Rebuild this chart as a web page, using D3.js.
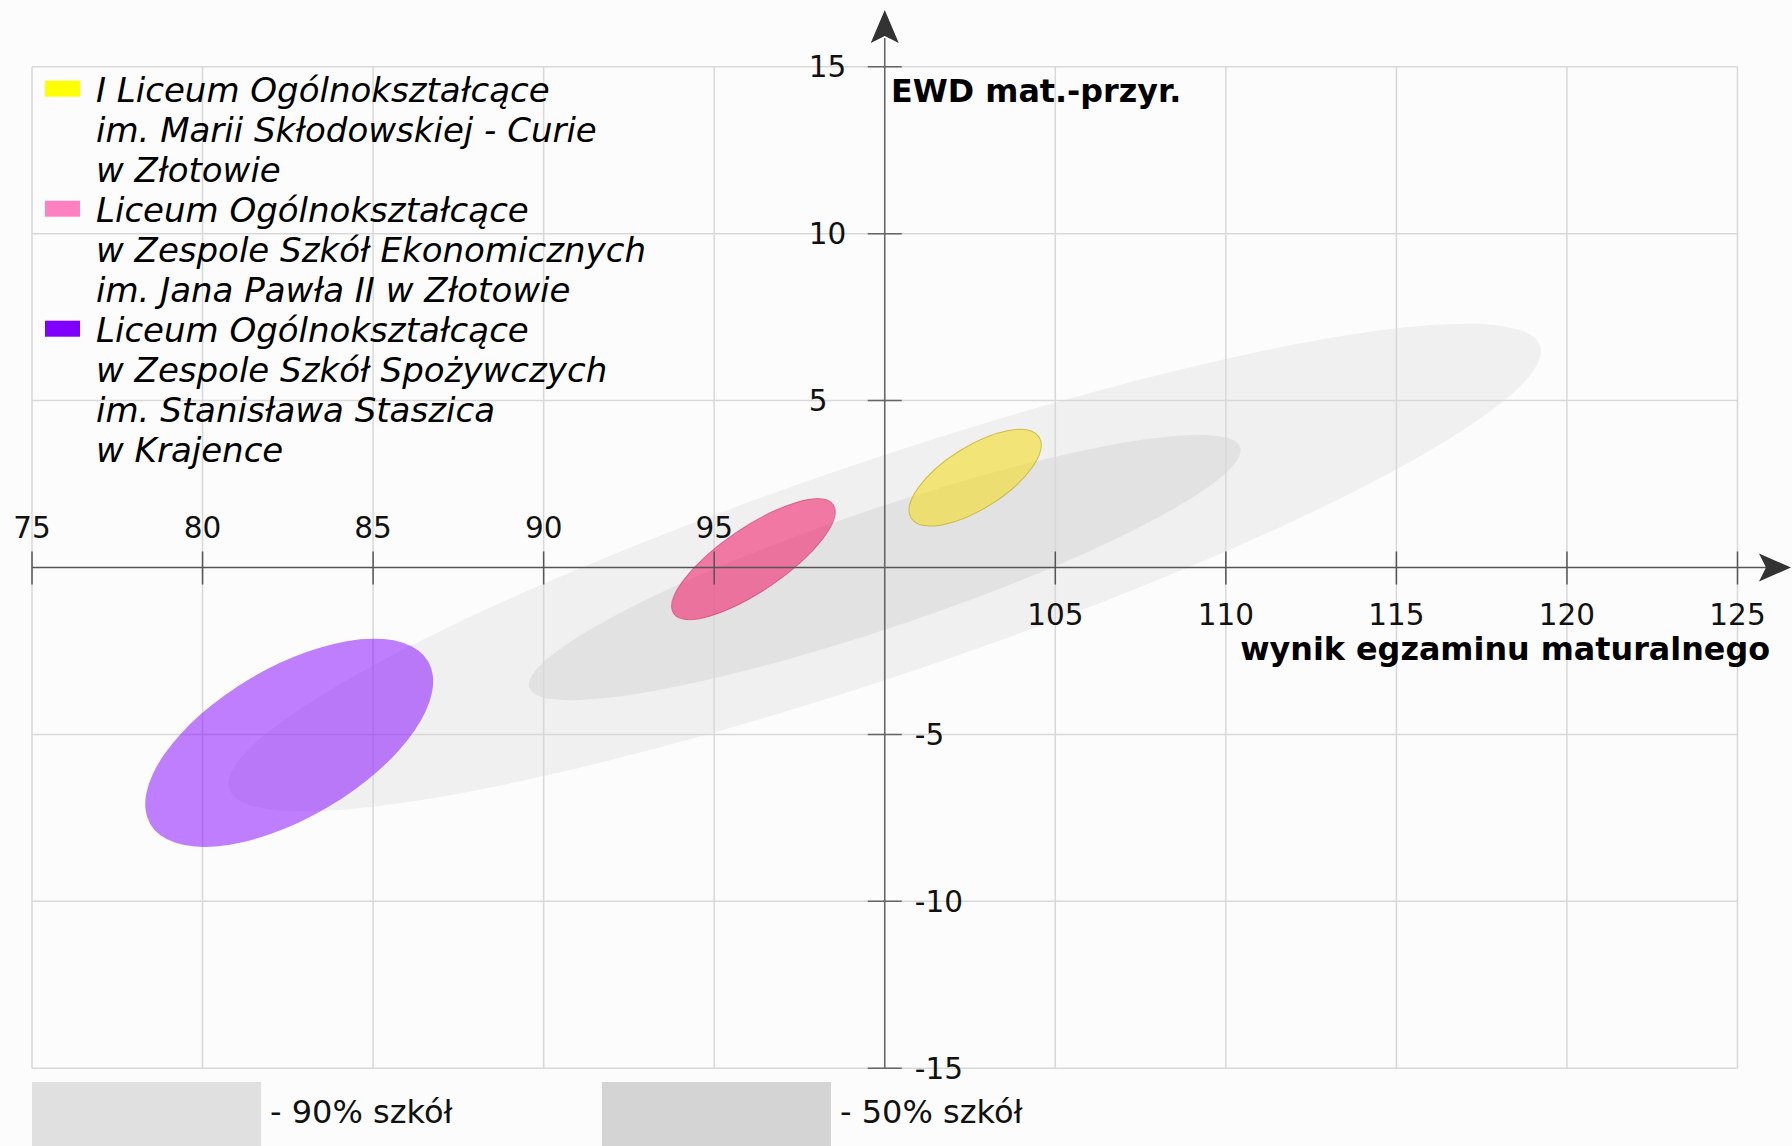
<!DOCTYPE html>
<html>
<head>
<meta charset="utf-8">
<script src="https://cdn.jsdelivr.net/npm/d3@7"></script>
<style>
  html, body { margin: 0; padding: 0; background: #fcfcfc; }
  svg { display: block; }
  text { font-family: "DejaVu Sans", sans-serif; }
</style>
</head>
<body>
<svg id="chart" width="1792" height="1146"></svg>
<script>
// ---- data ----
const xTicks = [75, 80, 85, 90, 95, 100, 105, 110, 115, 120, 125];
const yTicks = [-15, -10, -5, 5, 10, 15];
const xTitle = "wynik egzaminu maturalnego";
const yTitle = "EWD mat.-przyr.";

// national distribution ellipses (90% / 50% of schools)
const bandLabels = ["- 90% szkół", "- 50% szkół"];
const bandCx = [100, 100];
const bandCy = [0, 0];
const bandRx = [20.28, 11.0];
const bandRy = [3.2, 1.77];
const bandAngle = [18.7, 18.7];
const bandFill = ["#f0f0f0", "#e2e2e2"];
const bandSwatch = ["#e0e0e0", "#d4d4d4"];

// schools
const schoolNames = [
  ["I Liceum Ogólnokształcące", "im. Marii Skłodowskiej - Curie", "w Złotowie"],
  ["Liceum Ogólnokształcące", "w Zespole Szkół Ekonomicznych", "im. Jana Pawła II w Złotowie"],
  ["Liceum Ogólnokształcące", "w Zespole Szkół Spożywczych", "im. Stanisława Staszica", "w Krajence"]
];
const schoolCx = [102.65, 96.15, 82.54];
const schoolCy = [2.69, 0.25, -5.25];
const schoolRx = [2.22, 2.83, 4.72];
const schoolRy = [0.93, 0.95, 2.25];
const schoolAngle = [32.4, 34.3, 30.4];
const schoolFill = ["rgb(245,220,40)", "rgb(240,40,110)", "#8000ff"];
const schoolOpacity = [0.6, 0.6, 0.5];
const schoolStroke = ["#b8a200", "#d0306a", "none"];
const schoolSwatch = ["#ffff00", "#ff80c0", "#8000ff"];

// ---- chart ----
const svg = d3.select("#chart");
const x = d3.scaleLinear().domain([75, 125]).range([32, 1737.5]);
const y = d3.scaleLinear().domain([-15, 15]).range([1068.3, 66.7]);

svg.append("rect").attr("width", 1792).attr("height", 1146).attr("fill", "#fcfcfc");

function drawEllipse(g, cx, cy, rx, ry, ang) {
  const px = x(cx), py = y(cy);
  return g.append("ellipse")
    .attr("cx", px).attr("cy", py)
    .attr("rx", x(cx + rx) - px)
    .attr("ry", py - y(cy + ry))
    .attr("transform", `rotate(${-ang},${px},${py})`);
}

// gray bands
const gBands = svg.append("g");
bandCx.forEach((cx, i) => {
  drawEllipse(gBands, cx, bandCy[i], bandRx[i], bandRy[i], bandAngle[i])
    .attr("fill", bandFill[i]);
});

// grid
const gGrid = svg.append("g").attr("stroke", "#d8d8d8").attr("stroke-width", 1.5);
xTicks.filter(v => v !== 100).forEach(v => {
  gGrid.append("line").attr("x1", x(v)).attr("x2", x(v)).attr("y1", y(15)).attr("y2", y(-15));
});
yTicks.forEach(v => {
  gGrid.append("line").attr("x1", x(75)).attr("x2", x(125)).attr("y1", y(v)).attr("y2", y(v));
});

// school ellipses
const gSchools = svg.append("g");
schoolCx.forEach((cx, i) => {
  drawEllipse(gSchools, cx, schoolCy[i], schoolRx[i], schoolRy[i], schoolAngle[i])
    .attr("fill", schoolFill[i])
    .attr("fill-opacity", schoolOpacity[i])
    .attr("stroke", schoolStroke[i])
    .attr("stroke-opacity", 0.6)
    .attr("stroke-width", 1);
});

// axes
const axisColor = "#555";
const gAxes = svg.append("g");
gAxes.append("line").attr("x1", x(75)).attr("x2", 1766).attr("y1", y(0)).attr("y2", y(0))
  .attr("stroke", axisColor).attr("stroke-width", 1.6);
gAxes.append("line").attr("x1", x(100)).attr("x2", x(100)).attr("y1", y(-15)).attr("y2", 38)
  .attr("stroke", "#666").attr("stroke-width", 1.6);
const ax0 = x(100), ay0 = y(0);
gAxes.append("path")
  .attr("d", `M${ax0},10 L${ax0 + 14},43 L${ax0},36 L${ax0 - 14},43 Z`)
  .attr("fill", "#333");
gAxes.append("path")
  .attr("d", `M1791,${ay0} L1759,${ay0 - 14} L1766,${ay0} L1759,${ay0 + 14} Z`)
  .attr("fill", "#333");

// x ticks
xTicks.filter(v => v !== 100).forEach(v => {
  gAxes.append("line").attr("x1", x(v)).attr("x2", x(v)).attr("y1", y(0) - 16).attr("y2", y(0) + 17)
    .attr("stroke", axisColor).attr("stroke-width", 1.5);
  gAxes.append("text")
    .attr("x", x(v))
    .attr("y", v < 100 ? y(0) - 30 : y(0) + 57)
    .attr("text-anchor", "middle")
    .attr("font-size", 29.5)
    .attr("fill", "#111")
    .text(v);
});
// y ticks
yTicks.forEach(v => {
  gAxes.append("line").attr("x1", x(100) - 17).attr("x2", x(100) + 17).attr("y1", y(v)).attr("y2", y(v))
    .attr("stroke", "#666").attr("stroke-width", 1.5);
  gAxes.append("text")
    .attr("x", v > 0 ? x(100) - 76 : x(100) + 30)
    .attr("y", y(v) + 10.5)
    .attr("text-anchor", "start")
    .attr("font-size", 29.5)
    .attr("fill", "#111")
    .text(v);
});

// axis titles
svg.append("text").attr("x", 891).attr("y", 102)
  .attr("font-size", 31.8).attr("font-weight", "bold").attr("fill", "#000")
  .text(yTitle);
svg.append("text").attr("x", 1770).attr("y", 660)
  .attr("text-anchor", "end")
  .attr("font-size", 31.8).attr("font-weight", "bold").attr("fill", "#000")
  .text(xTitle);

// legend (schools)
const gLeg = svg.append("g");
let line = 0;
schoolNames.forEach((lines, i) => {
  const base = 101.7 + line * 40;
  gLeg.append("rect").attr("x", 45).attr("y", base - 21).attr("width", 35).attr("height", 16)
    .attr("fill", schoolSwatch[i]);
  lines.forEach((t, j) => {
    gLeg.append("text")
      .attr("x", 96).attr("y", base + j * 40)
      .attr("font-size", 34).attr("font-style", "italic").attr("fill", "#000")
      .text(t);
  });
  line += lines.length;
});

// legend (bands)
const bandBoxX = [32, 602];
bandLabels.forEach((t, i) => {
  svg.append("rect").attr("x", bandBoxX[i]).attr("y", 1082).attr("width", 229).attr("height", 70)
    .attr("fill", bandSwatch[i]);
  svg.append("text").attr("x", bandBoxX[i] + 238).attr("y", 1123)
    .attr("font-size", 32).attr("fill", "#111").text(t);
});
</script>
</body>
</html>
